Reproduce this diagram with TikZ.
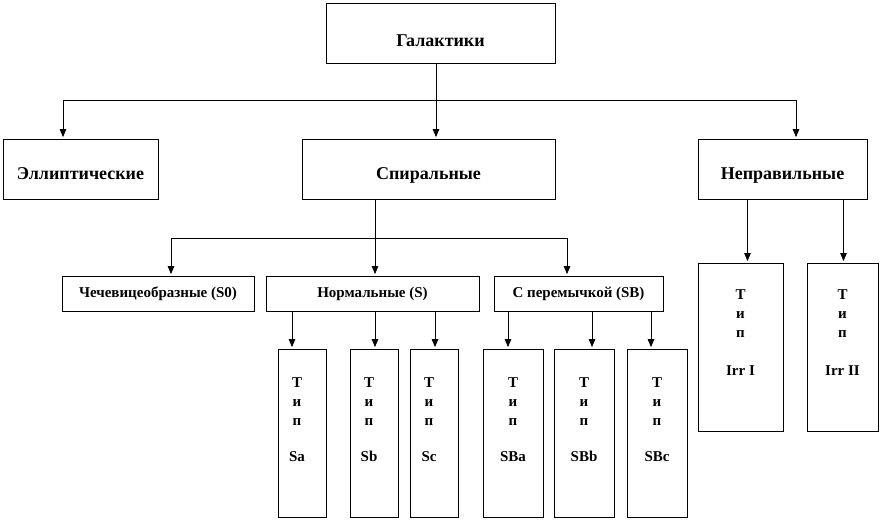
\documentclass[tikz,border=0pt]{standalone}
\usepackage{fontspec}
\setmainfont{Liberation Serif}
\usetikzlibrary{arrows.meta, calc}

\begin{document}
\begin{tikzpicture}[x=1pt, y=-1pt, line width=0.8pt, >={Triangle[length=8pt, width=6.5pt]},
  topbox/.style={draw, inner sep=0pt, text height=41pt, text depth=19pt, font=\fontsize{18}{20}\bfseries},
  subbox/.style={draw, minimum height=35pt, inner sep=0pt, font=\fontsize{15}{17}\bfseries},
  typebox/.style={draw, minimum height=168pt, inner sep=0pt},
  typetext/.style={anchor=north, inner sep=0pt, align=center, font=\fontsize{15}{19}\bfseries},
  link/.style={->, shorten >=1.5pt}]
\useasboundingbox (0,0) rectangle (882,521);

% top levels
\node[topbox, text height=44pt, text depth=16pt, minimum width=229pt] (gal) at (440.5,33) {Галактики};
\node[topbox, minimum width=155pt] (ell) at (80.5,169) {Эллиптические};
\node[topbox, minimum width=253pt] (spir) at (428.5,169) {Спиральные};
\node[topbox, minimum width=169pt] (irr) at (782.5,169) {Неправильные};

% spiral subclasses
\node[subbox, minimum width=192pt] (lent) at (158,293.5) {Чечевицеобразные (S0)};
\node[subbox, minimum width=213pt] (norm) at (372.5,293.5) {Нормальные (S)};
\node[subbox, minimum width=169pt] (bar) at (578.5,293.5) {С перемычкой (SB)};

% types
\node[typebox, minimum width=48pt] (sa) at (302,433) {};
\node[typebox, minimum width=48pt] (sb) at (374,433) {};
\node[typebox, minimum width=48pt] (sc) at (434,433) {};
\node[typebox, minimum width=60pt] (sba) at (513,433) {};
\node[typebox, minimum width=60pt] (sbb) at (584,433) {};
\node[typebox, minimum width=60pt] (sbc) at (657,433) {};
\node[typebox, minimum width=85pt] (irra) at (740.5,347) {};
\node[typebox, minimum width=71pt] (irrb) at (842.5,347) {};

\foreach \b/\t/\dx in {sa/Sa/-5, sb/Sb/-5, sc/Sc/-5, sba/SBa/0, sbb/SBb/0, sbc/SBc/0}
  \node[typetext] (\b-t) at ([xshift=\dx pt, yshift=-29pt]\b.north) {Т\\и\\п\\[17pt]\t};
\node[typetext] (irra-t) at ([yshift=-27pt]irra.north) {Т\\и\\п\\[19pt]Irr I};
\node[typetext] (irrb-t) at ([yshift=-27pt]irrb.north) {Т\\и\\п\\[19pt]Irr II};

% connectors
\coordinate (j1) at (436,100);
\coordinate (busL) at (63,100);
\coordinate (busR) at (796,100);
\draw (gal.south -| j1) -- (j1);
\draw (busL) -- (busR);
\draw[link] (busL) -- (busL |- ell.north);
\draw[link] (j1) -- (j1 |- spir.north);
\draw[link] (busR) -- (busR |- irr.north);

\coordinate (j2) at (375,238);
\coordinate (busL2) at (171,238);
\coordinate (busR2) at (567,238);
\draw (spir.south -| j2) -- (j2);
\draw (busL2) -- (busR2);
\draw[link] (busL2) -- (busL2 |- lent.north);
\draw[link] (j2) -- (j2 |- norm.north);
\draw[link] (busR2) -- (busR2 |- bar.north);

\foreach \b/\dx in {sa/-10, sb/1, sc/1}{
  \path ($(\b.north)+(\dx,0)$) coordinate (\b-in);
  \draw[link] (norm.south -| \b-in) -- (\b-in);
}
\foreach \b/\dx in {sba/-5, sbb/8, sbc/-6}{
  \path ($(\b.north)+(\dx,0)$) coordinate (\b-in);
  \draw[link] (bar.south -| \b-in) -- (\b-in);
}
\foreach \b/\dx in {irra/7, irrb/1}{
  \path ($(\b.north)+(\dx,0)$) coordinate (\b-in);
  \draw[link] (irr.south -| \b-in) -- (\b-in);
}
\end{tikzpicture}
\end{document}
